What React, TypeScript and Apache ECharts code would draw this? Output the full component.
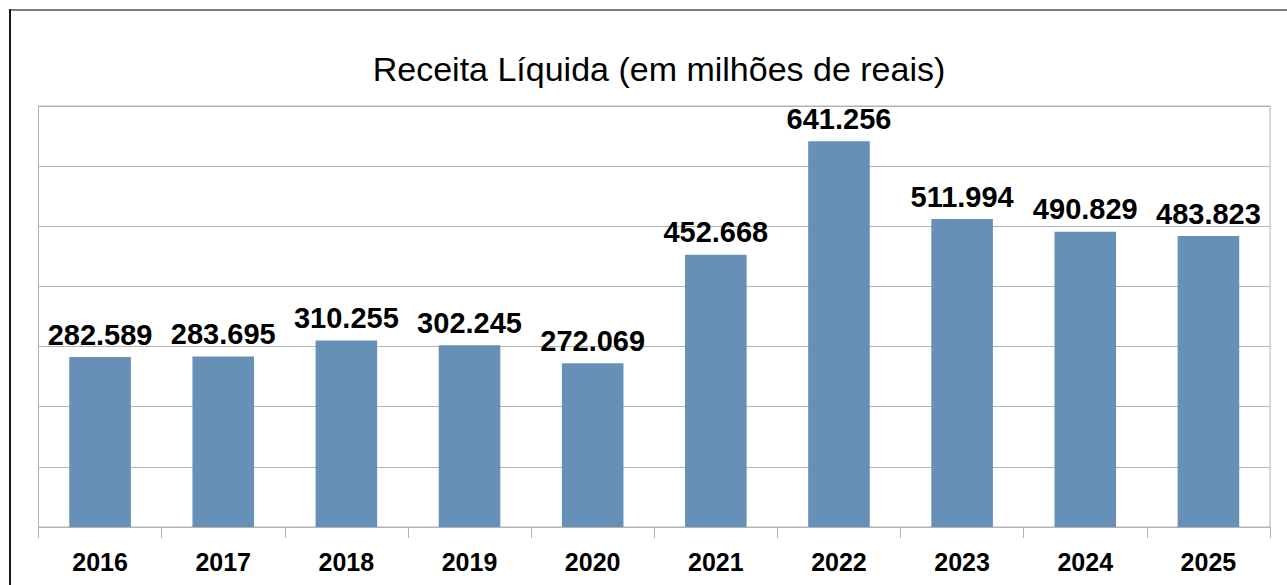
import React, { useEffect, useRef } from "react";
import * as echarts from "echarts";

const titleText = "Receita Líquida (em milhões de reais)";
const categories = ["2016", "2017", "2018", "2019", "2020", "2021", "2022", "2023", "2024", "2025"];
const values = [282.589, 283.695, 310.255, 302.245, 272.069, 452.668, 641.256, 511.994, 490.829, 483.823];
const yMin = 0;
const yMax = 700;
const yInterval = 100;

export default function App() {
  const ref = useRef<HTMLDivElement>(null);
  useEffect(() => {
    if (!ref.current) return;
    const chart = echarts.init(ref.current, undefined, { renderer: "svg" });
    const font = "'Liberation Sans', Arial, sans-serif";
    chart.setOption({
      animation: false,
      backgroundColor: "#ffffff",
      textStyle: { fontFamily: font },
      title: {
        text: titleText,
        left: 654,
        top: 47,
        textAlign: "center",
        textStyle: { fontFamily: font, fontSize: 34, fontWeight: "normal", color: "#000000" },
      },
      graphic: [
        { type: "line", shape: { x1: 9, y1: 10, x2: 1287, y2: 10 }, style: { stroke: "#7f7f7f", lineWidth: 2 } },
        { type: "line", shape: { x1: 10, y1: 9, x2: 10, y2: 585 }, style: { stroke: "#1a1a1a", lineWidth: 2 } },
      ],
      grid: {
        left: 38.5,
        right: 17,
        top: 106,
        bottom: 58,
        show: true,
        borderColor: "#b3b3b3",
        borderWidth: 1,
        containLabel: false,
      },
      xAxis: {
        type: "category",
        data: categories,
        boundaryGap: true,
        axisLine: { show: true, lineStyle: { color: "#b3b3b3", width: 1 } },
        axisTick: { show: true, length: 11, lineStyle: { color: "#b3b3b3" } },
        axisLabel: { fontFamily: font, fontSize: 25, fontWeight: "bold", color: "#000000", margin: 22 },
      },
      yAxis: {
        type: "value",
        min: yMin,
        max: yMax,
        interval: yInterval,
        axisLine: { show: true, lineStyle: { color: "#b3b3b3" } },
        axisTick: { show: false },
        axisLabel: { show: false },
        splitLine: { show: true, lineStyle: { color: "#b3b3b3", width: 1 } },
      },
      series: [
        {
          type: "bar",
          data: values,
          barWidth: "50%",
          itemStyle: { color: "#6690b8" },
          label: {
            show: true,
            position: "top",
            distance: 8,
            fontFamily: font,
            fontSize: 29,
            fontWeight: "bold",
            color: "#000000",
            formatter: (p: any) => Number(p.value).toFixed(3),
          },
        },
      ],
    });
    return () => chart.dispose();
  }, []);
  return (
    <div
      ref={ref}
      style={{ position: "fixed", left: 0, top: 0, width: 1287, height: 585, background: "#fff" }}
    />
  );
}
